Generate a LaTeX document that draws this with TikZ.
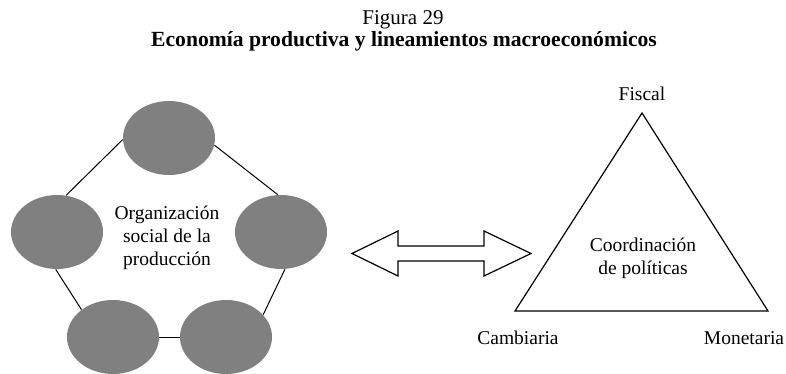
\documentclass[tikz,border=0pt]{standalone}
\usepackage{fontspec}
\setmainfont{Liberation Serif}
\usetikzlibrary{positioning,shapes.geometric}

\begin{document}
\begin{tikzpicture}[
		x=0.5pt,y=-0.5pt,
		every node/.style={
			inner sep=1pt,
			align=center,
			font=\fontsize{9.75}{11.5}\selectfont
		},
		blob/.style={
			ellipse,
			fill=black!50,
			minimum width=46pt,
			minimum height=37pt
		},
		link/.style={draw=black,line width=0.5pt},
		edge/.style={draw=black,line width=0.6pt,line join=miter}
		]
		
		\useasboundingbox (0,0) rectangle (786,374);
		
		%--------------------------------------------------
		% Title
		%--------------------------------------------------
		
		\node (fig) at (403,20) {\fontsize{10.5}{12}\selectfont Figura 29};
		
		\node (title) at (404,41)
		{\fontsize{10.8}{12}\selectfont\bfseries Economía productiva y lineamientos macroeconómicos};
		
		%--------------------------------------------------
		% Productive organisation
		%--------------------------------------------------
		
		\node[blob] (top) at (169,138) {};
		
		\node[blob] (west) at (57,232) {};
		
		\node[blob] (east) at (281,232) {};
		
		\node[blob] (sw) at (113,337) {};
		
		\node[blob] (se) at (226,337) {};
		
		\node (org) at (167,238)
		{Organización\\social de la\\producción};
		
		\draw[link] (top.182) -- (west.76);
		
		\draw[link] (top.351) -- (east.95);
		
		\draw[link] (west.268) -- (sw.139);
		
		\draw[link] (east.276) -- (se.31);
		
		\draw[link] (sw) -- (se);
		
		%--------------------------------------------------
		% Policy triangle
		%--------------------------------------------------
		
		\coordinate (apex) at (642,113);
		
		\coordinate (cam) at (515,311);
		
		\coordinate (mon) at (768,311);
		
		\draw[edge] (apex) -- (cam) -- (mon) -- cycle;
		
		\node (fiscal) [above=5pt of apex] {Fiscal};
		
		\node (camlab) at (518,338) {Cambiaria};
		
		\node (monlab) at (744,338) {Monetaria};
		
		\node (coord) at (643,258)
		{\fontsize{9.75}{10.5}\selectfont Coordinación\\de políticas};
		
		%--------------------------------------------------
		% Double arrow
		%--------------------------------------------------
		
		\coordinate (mid) at (441.5,253.5);
		
		\draw[edge] (mid) ++(-89.5,0) -- ++(46,-22.5) -- ++(0,15)
		-- ++(86,0) -- ++(0,-15) -- ++(47,22.5) -- ++(-47,22.5)
		-- ++(0,-15) -- ++(-86,0) -- ++(0,15) -- cycle;
		
	\end{tikzpicture}
\end{document}
